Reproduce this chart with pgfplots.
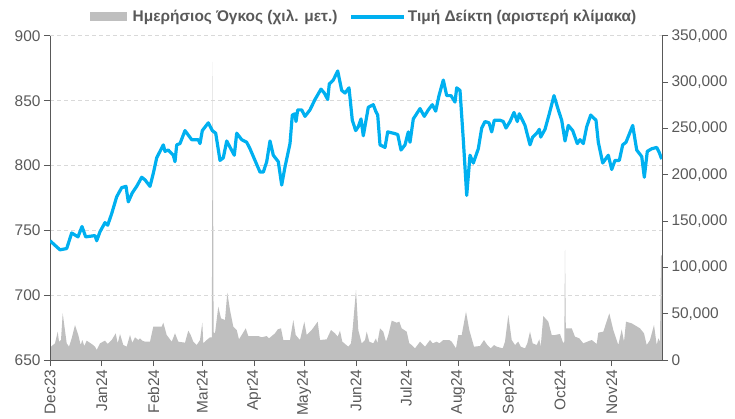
\documentclass[border=0pt]{standalone}
\usepackage{fontspec}
\setmainfont{Liberation Sans}
\usepackage{pgfplots}
\pgfplotsset{compat=1.18}
\definecolor{txt}{HTML}{595959}
\definecolor{axl}{HTML}{595959}
\definecolor{blu}{HTML}{00B0F0}
\definecolor{vol}{HTML}{BFBFBF}
\definecolor{grd}{HTML}{D9D9D9}
\begin{document}
\begin{tikzpicture}
\pgfplotsset{
  base/.style={scale only axis, width=612bp, height=324bp, at={(0,0)}, anchor=south west,
    xmin=50, xmax=662,
    axis line style={-, axl, line width=1bp},
    tick style={axl, line width=1bp},
    tick align=outside, major tick length=6bp,
    ticklabel style={font=\fontsize{15.5}{18}\selectfont, text=txt},
    /pgf/number format/assume math mode=true},
}
% volume axis (right)
\begin{axis}[base, ymin=0, ymax=350000, axis y line*=right, axis x line=none,
  ytick={0,50000,...,350000}, scaled y ticks=false,
  yticklabel style={/pgf/number format/.cd, fixed, 1000 sep={,}}]
\addplot[fill=vol, draw=none] coordinates {
(50,0) (50,12000) (51,14400) (55,18000) (57.7,30600) (59,19800) (61,21600) (62.7,50400) (66.7,18000) (69,14400)
(71.7,23400) (75,37800) (78.3,27000) (80.7,16200) (82.3,21600) (84.3,15100) (86.7,20900) (91.7,17300) (95,14400)
(96.7,10800) (100,18000) (105,20900) (107.7,17300) (111.7,21600) (115.7,28800) (117.7,18000) (120,28100) (123.3,16200)
(126.7,14400) (130,27000) (132.3,18700) (135,24500) (138.3,21600) (140,23400) (142.3,20900) (145,19800) (150,19800)
(153.3,36000) (161.7,36000) (163.3,40300) (166.7,27000) (171.7,19800) (175,28800) (178.3,19800) (185,18700) (188.3,31700)
(190.7,27000) (193.3,19800) (196.7,16200) (200,21600) (202.3,40300) (203.3,18000) (206.7,21600) (210,24500) (211.8,24500)
(212.7,322000) (213.6,30000) (215,28800) (218.3,57600) (221,45000) (225,43200) (227.3,72700) (230,54000) (233.3,36000)
(236.7,32400) (239,22300) (241.7,27000) (245.7,34200) (248.3,25900) (258.3,25900) (261.7,24500) (266.7,25900) (269,23400)
(275,28800) (277.7,33100) (281,34200) (283.3,21600) (290,21600) (293.3,43200) (295.7,27000) (300,21600) (304.3,41400)
(306.7,27000) (311.7,32400) (317.7,41400) (320,21600) (326.7,22300) (331,32400) (335,28800) (337.7,25200) (340,31700)
(342.3,19800) (348.3,14400) (351,18000) (352.7,34200) (356,75600) (358.3,32400) (361.7,18000) (365,21600) (366.7,30600)
(369.3,19800) (373.3,18000) (376,23400) (377.3,18000) (380,34200) (383.3,30600) (386,19800) (388.3,27000) (391.7,42500)
(396.7,40300) (399.3,41400) (401.7,34200) (406.7,30600) (409.3,18000) (411.7,16200) (415,12600) (420,19800) (425,14400)
(430,21600) (432.7,18000) (436.7,19800) (439.3,18000) (443.3,21600) (449.3,21600) (451.7,19800) (456,12600) (458.3,27000)
(461.7,27000) (466,52200) (469.3,32400) (474,14400) (480,15100) (484,21600) (487.3,16200) (490.7,12600) (494,16200)
(496.7,14400) (502.7,12600) (505,19800) (508.3,48600) (511.7,21600) (515,16200) (518.3,19800) (520.7,14400) (525,12600)
(527.3,18000) (530,30600) (532.7,18000) (536.7,16200) (539.3,22300) (540.7,14400) (543.3,47500) (548.3,41400) (551.7,27000)
(555,27000) (560,28100) (563.3,18000) (564.3,20000) (565,119000) (565.8,34200) (568.3,34200) (571.7,34200) (575,25200)
(579.3,23400) (583.3,18000) (587.3,19800) (591.7,21600) (596.7,17300) (598.3,29500) (603.3,30600) (609.3,50400) (613.3,32400)
(618.3,16200) (621.7,33100) (624,19800) (626,41400) (631.7,39600) (640,34200) (644,28800) (646.7,16200) (650,21600)
(654,37800) (656.7,16200) (658.3,23400) (660,20000) (661,113000) (662,113000) (662,0)
} \closedcycle;
\end{axis}
% left axis with grid
\begin{axis}[base, ymin=650, ymax=900, axis y line*=box, axis x line*=bottom,
  ytick={650,700,...,900}, ytick pos=left,
  xtick={50,101.8,153.7,202.2,254.0,304.2,356.0,406.2,458.0,509.8,560.0,611.8},
  xticklabels={Dec23,Jan24,Feb24,Mar24,Apr24,May24,Jun24,Jul24,Aug24,Sep24,Oct24,Nov24},
  xticklabel style={rotate=90, anchor=east},
  ymajorgrids, grid style={grd, line width=1bp, dash pattern=on 4bp off 3bp}]
\addplot[draw=none] coordinates {(50,700)};
\end{axis}
% index line
\begin{axis}[base, ymin=650, ymax=900, hide axis,
  legend columns=2,
  legend style={at={(0.513,1.059)}, anchor=center, draw=none, fill=none,
    font=\bfseries\fontsize{15.5}{18}\selectfont, text=txt,
    /tikz/every even column/.append style={column sep=10bp}}]
\addlegendimage{legend image code/.code={\fill[vol, draw=none] (0bp,-4.5bp) rectangle (37bp,4.5bp); \path[draw=none, fill=none] (0bp,0bp) -- (41bp,0bp);}}
\addlegendentry{Ημερήσιος Όγκος (χιλ. μετ.)}
\addplot[blu, line width=3.2bp, line join=round, legend image code/.code={\draw[blu, line width=3.5bp] (0bp,0bp) -- (53bp,0bp);}] coordinates {
(50,742) (60,735) (66.7,736) (71.7,748) (78,745) (82,753) (85.7,745) (95,746) (96.7,742) (100,749) (105,756) (107.7,754)
(111.7,763) (116.7,776) (121.7,783) (126,784) (128.3,772) (132.3,779) (136.7,784) (141.7,791) (145,789) (150,784)
(153.3,794) (156.7,806) (163.3,816) (165,811) (168.3,812) (173.3,808) (175,803) (176.7,816) (180,817) (185,827)
(191.7,820) (198.3,820) (200,817) (202.3,827) (208.3,833) (212.3,827) (215.7,825) (220,804) (223.3,806) (226.7,819)
(234.3,808) (236.7,825) (241.7,820) (246.7,818) (250,813) (255,804) (260,795) (263.3,795) (266.7,803) (270,819)
(273.3,808) (278.3,803) (281.7,785) (285,799) (290,817) (292.3,839) (295,840) (296,834) (297.7,843) (301.7,843)
(305,838) (310,843) (315,851) (321,859) (324.3,856) (327.7,851) (329.3,863) (333.3,866) (337.7,873) (341.7,858)
(345,856) (349,860) (352.3,835) (355.7,827) (358.3,830) (361,836) (363.3,823) (368.3,845) (373.3,847) (375.7,842)
(377.7,839) (380,816) (385,814) (387.7,826) (393.3,825) (397.7,824) (401,812) (405,816) (408.3,826) (410,818)
(413.3,836) (420,844) (424.3,838) (428.3,843) (432.3,847) (435.7,842) (439,854) (443.3,866) (446.7,854) (451,854)
(455,849) (456.7,860) (460,858) (463.3,820) (466.7,777) (470,808) (473.3,802) (478.3,813) (481.7,829) (485,834)
(489,833) (491.7,826) (494.3,835) (500,835) (503.3,834) (506,829) (510,834) (514,841) (517.3,834) (519.3,840)
(525,831) (530,816) (532.7,822) (536.7,825) (539.3,828) (540.7,822) (545,828) (549.3,840) (554,854) (558.3,843)
(561.7,835) (565,819) (568.3,831) (572.7,827) (577.3,817) (580,820) (583.3,817) (586.7,830) (590.7,839) (596,835)
(598.3,818) (602.7,802) (608.3,808) (611.7,797) (615,804) (619.3,804) (622.7,816) (626,818) (632.7,831) (636.7,812)
(641.7,807) (644.3,791) (647.3,811) (651.7,813) (656.7,814) (659.3,810) (661.7,805)
};
\addlegendentry{Τιμή Δείκτη (αριστερή κλίμακα)}
\end{axis}
\pgfresetboundingbox
\path (-50bp,-59bp) rectangle (685bp,360bp);
\end{tikzpicture}
\end{document}
